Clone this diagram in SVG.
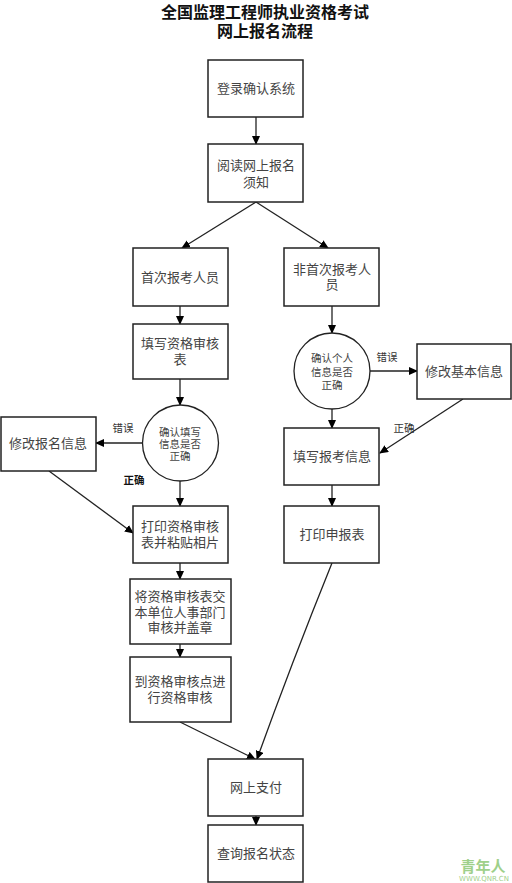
<svg xmlns="http://www.w3.org/2000/svg" width="512" height="883" viewBox="0 0 512 883">
<defs>
<marker id="ah" markerWidth="9" markerHeight="8" refX="8" refY="4" orient="auto" markerUnits="userSpaceOnUse">
<path d="M0,0 L9,4 L0,8 Z" fill="#000"/>
</marker>
<style>
.box{fill:#fff;stroke:#222;stroke-width:1.5}
.c{fill:#fff;stroke:#222;stroke-width:1.3}
.t{font-family:"Liberation Serif","Noto Sans CJK SC",serif;font-size:13px;fill:#444;text-anchor:middle}
.s{font-family:"Liberation Serif","Noto Sans CJK SC",serif;font-size:10.5px;fill:#444;text-anchor:middle}
.lbl{font-family:"Liberation Serif","Noto Sans CJK SC",serif;font-size:10.5px;fill:#333;text-anchor:middle}
.title{font-family:"Liberation Serif","Noto Sans CJK SC",serif;font-size:16px;font-weight:bold;fill:#111;text-anchor:middle}
.ln{fill:none;stroke:#222;stroke-width:1.3;marker-end:url(#ah)}
</style>
</defs>
<rect width="512" height="883" fill="#fff"/>
<g id="title">
<text class="title" x="265" y="18">全国监理工程师执业资格考试</text>
<text class="title" x="265" y="37">网上报名流程</text>
</g>
<g id="connectors">
<line class="ln" x1="256" y1="117" x2="256" y2="144"/>
<line class="ln" x1="256" y1="202" x2="182" y2="248"/>
<line class="ln" x1="256" y1="202" x2="328" y2="248"/>
<line class="ln" x1="180" y1="306" x2="180" y2="324"/>
<line class="ln" x1="180" y1="379" x2="180" y2="405"/>
<line class="ln" x1="143" y1="443" x2="96" y2="443"/>
<line class="ln" x1="180" y1="481" x2="180" y2="506"/>
<line class="ln" x1="49" y1="471" x2="133" y2="533"/>
<line class="ln" x1="180" y1="563" x2="180" y2="579"/>
<line class="ln" x1="180" y1="644" x2="180" y2="657"/>
<line class="ln" x1="180" y1="722" x2="255" y2="759"/>
<path class="ln" d="M332,563 Q292,662 257,759"/>
<line class="ln" x1="256" y1="816" x2="256" y2="825"/>
<line class="ln" x1="332" y1="306" x2="332" y2="333"/>
<line class="ln" x1="370" y1="371" x2="417" y2="371"/>
<line class="ln" x1="463" y1="399" x2="380" y2="453"/>
<line class="ln" x1="332" y1="409" x2="332" y2="428"/>
<line class="ln" x1="332" y1="485" x2="332" y2="506"/>
<text class="lbl" x="123" y="432">错误</text>
<text class="lbl" x="134" y="484" style="font-weight:bold;fill:#111">正确</text>
<text class="lbl" x="387" y="361">错误</text>
<text class="lbl" x="404" y="432">正确</text>
</g>
<g id="n1"><rect class="box" x="208" y="60" width="95" height="57"/><text class="t" x="256" y="93">登录确认系统</text></g>
<g id="n2"><rect class="box" x="208" y="144" width="95" height="58"/><text class="t" x="256" y="170">阅读网上报名</text><text class="t" x="256" y="187">须知</text></g>
<g id="n3"><rect class="box" x="133" y="248" width="95" height="58"/><text class="t" x="180" y="282">首次报考人员</text></g>
<g id="n4"><rect class="box" x="284" y="248" width="95" height="58"/><text class="t" x="332" y="274">非首次报考人</text><text class="t" x="332" y="289">员</text></g>
<g id="n5"><rect class="box" x="133" y="324" width="95" height="55"/><text class="t" x="180" y="348">填写资格审核</text><text class="t" x="180" y="364">表</text></g>
<g id="d1"><circle class="c" cx="180.5" cy="443" r="38"/><text class="s" x="180" y="436">确认填写</text><text class="s" x="180" y="448">信息是否</text><text class="s" x="180" y="460">正确</text></g>
<g id="n6"><rect class="box" x="1" y="417" width="95" height="54"/><text class="t" x="48" y="448">修改报名信息</text></g>
<g id="d2"><circle class="c" cx="332" cy="371" r="38"/><text class="s" x="332" y="362">确认个人</text><text class="s" x="332" y="376">信息是否</text><text class="s" x="332" y="389">正确</text></g>
<g id="n7"><rect class="box" x="417" y="344" width="94" height="55"/><text class="t" x="464" y="376">修改基本信息</text></g>
<g id="n8"><rect class="box" x="284" y="428" width="95" height="57"/><text class="t" x="332" y="461">填写报考信息</text></g>
<g id="n9"><rect class="box" x="133" y="506" width="95" height="57"/><text class="t" x="180" y="531">打印资格审核</text><text class="t" x="180" y="547">表并粘贴相片</text></g>
<g id="n10"><rect class="box" x="284" y="506" width="95" height="57"/><text class="t" x="332" y="539">打印申报表</text></g>
<g id="n11"><rect class="box" x="130" y="579" width="101" height="65"/><text class="t" x="180" y="601">将资格审核表交</text><text class="t" x="180" y="617">本单位人事部门</text><text class="t" x="180" y="632">审核并盖章</text></g>
<g id="n12"><rect class="box" x="130" y="657" width="101" height="65"/><text class="t" x="180" y="686">到资格审核点进</text><text class="t" x="180" y="702">行资格审核</text></g>
<g id="n13"><rect class="box" x="208" y="759" width="95" height="57"/><text class="t" x="256" y="792">网上支付</text></g>
<g id="n14"><rect class="box" x="208" y="825" width="95" height="57"/><text class="t" x="256" y="858">查询报名状态</text></g>
<g id="watermark">
<text x="483" y="872" style="font-family:'Noto Sans CJK SC',sans-serif;font-size:15px;font-weight:bold;fill:#9fd08a;text-anchor:middle">青年人</text>
<text x="484" y="881" style="font-family:'DejaVu Sans',sans-serif;font-size:7px;fill:#9fd08a;text-anchor:middle">WWW.QNR.CN</text>
</g>
</svg>
